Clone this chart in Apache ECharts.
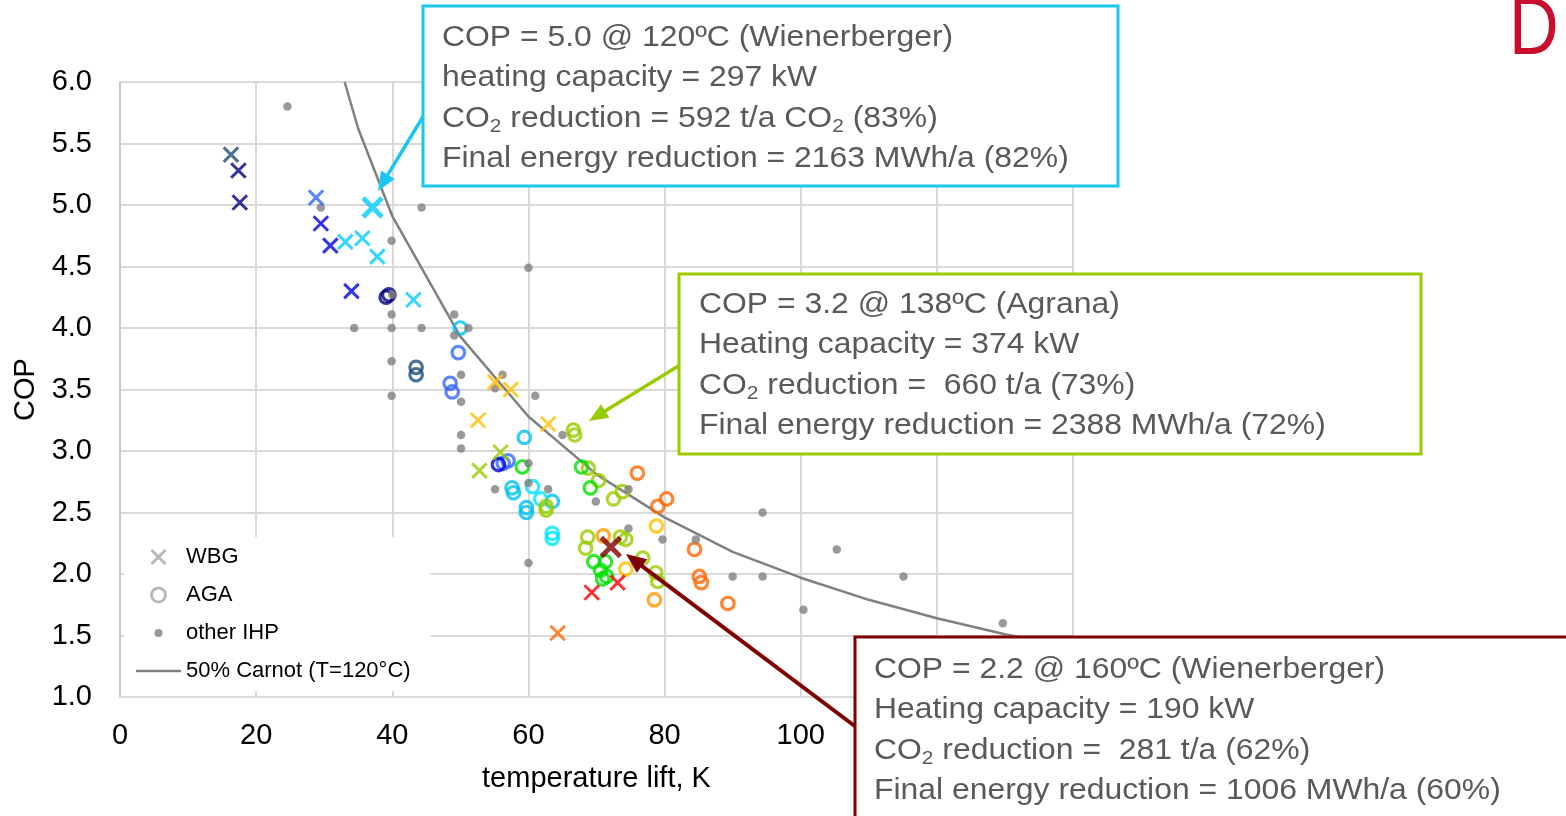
<!DOCTYPE html>
<html><head><meta charset="utf-8">
<script src="https://cdn.jsdelivr.net/npm/echarts/dist/echarts.min.js"></script>
<style>html,body{margin:0;padding:0;background:#fff}#c{width:1566px;height:816px}</style>
</head><body><div id="c"></div><script>
// ---------- data (temperature lift K, COP) ----------
const wbgTeal = [[16.3,5.41]];
const wbgNavy = [[17.4,5.28],[17.6,5.02]];
const wbgRoyal = [[28.8,5.06]];
const wbgBlue = [[29.5,4.85],[30.9,4.67],[34.0,4.30]];
const wbgCyan = [[33.1,4.70],[35.6,4.73],[37.8,4.58],[43.1,4.23]];
const wbgCyanHighlight = [[37.1,4.98]];
const wbgGold = [[55.1,3.56],[57.4,3.50],[52.6,3.25],[62.9,3.22]];
const wbgYellowGreen = [[55.9,2.99],[52.8,2.84]];
const wbgRed = [[73.1,1.93],[69.3,1.85]];
const wbgOrange = [[64.3,1.52]];
const wbgDarkRedHighlight = [[72.1,2.22]];

const agaNavy = [[39.1,4.25],[39.5,4.27]];
const agaTeal = [[43.5,3.68],[43.5,3.62]];
const agaRoyal = [[49.7,3.80],[48.5,3.55],[48.8,3.48],[56.3,2.90],[57.0,2.92]];
const agaBlue = [[55.6,2.89]];
const agaSky = [[50.0,4.00],[59.4,3.11],[57.6,2.70],[57.8,2.66],[59.7,2.54],[59.7,2.50],[63.5,2.59]];
const agaCyan = [[60.6,2.71],[61.8,2.61],[63.5,2.33],[63.5,2.29]];
const agaYellowGreen = [[66.6,3.17],[66.8,3.13],[62.6,2.55],[62.6,2.52],[68.8,2.86],[70.3,2.76],[72.5,2.61],[73.8,2.67],[68.7,2.30],[68.4,2.21],[73.5,2.30],[74.3,2.28],[76.8,2.13],[78.7,2.01],[79.0,1.94]];
const agaGreen = [[59.1,2.87],[67.8,2.87],[69.1,2.70],[69.6,2.10],[71.3,2.10],[70.6,2.03],[71.5,1.98],[70.9,1.96]];
const agaOrange = [[76.0,2.82],[79.0,2.55],[80.3,2.61],[84.4,2.20],[85.1,1.98],[85.4,1.93],[89.3,1.76]];
const agaLightOrange = [[71.0,2.31],[78.5,1.79]];
const agaGold = [[78.8,2.39],[74.3,2.04]];

const otherIHP = [[24.6,5.80],[29.5,4.98],[44.3,4.98],[39.9,4.71],[40.0,4.27],[39.9,4.11],[49.1,4.11],
  [34.4,4.00],[39.9,4.00],[44.3,4.00],[51.2,4.00],[49.1,3.94],[39.9,3.73],[50.1,3.62],[39.9,3.45],
  [50.1,3.40],[56.2,3.62],[55.1,3.51],[61.0,3.45],[50.1,3.13],[50.1,3.02],[65.0,3.13],[60.0,2.90],
  [55.1,2.69],[60.0,2.74],[62.9,2.69],[60.0,2.09],[69.9,2.59],[74.7,2.69],[74.7,2.37],[79.7,2.28],
  [84.6,2.28],[94.4,2.50],[90.0,1.98],[94.4,1.98],[100.4,1.71],[105.3,2.20],[115.1,1.98],[129.7,1.60],
  [60.0,4.49]];

const carnotLift = [33,35,40,50,60,70,80,90,100,110,120,130,140];
const carnotCop  = [6.0,5.62,4.91,3.93,3.28,2.81,2.46,2.18,1.97,1.79,1.64,1.51,1.40];

const legendNames = ['WBG','AGA','other IHP','50% Carnot (T=120°C)'];
const xAxisName = 'temperature lift, K';
const yAxisName = 'COP';

const calloutCyan = ['COP = 5.0 @ 120ºC (Wienerberger)','heating capacity = 297 kW','CO_2 reduction = 592 t/a CO_2 (83%)','Final energy reduction = 2163 MWh/a (82%)'];
const calloutGreen = ['COP = 3.2 @ 138ºC (Agrana)','Heating capacity = 374 kW','CO_2 reduction =  660 t/a (73%)','Final energy reduction = 2388 MWh/a (72%)'];
const calloutRed = ['COP = 2.2 @ 160ºC (Wienerberger)','Heating capacity = 190 kW','CO_2 reduction =  281 t/a (62%)','Final energy reduction = 1006 MWh/a (60%)'];

// ---------- styling ----------
const FONT = "'Liberation Sans', Arial, sans-serif";
const X_PATH = 'path://M0,0L10,10M10,0L0,10';
const DOT_PATH = 'path://M7,3A4,4 0 1,0 7.001,3Z M0,0h0.01v0.01h-0.01Z M14,14h-0.01v-0.01h0.01Z';
const LINE_PATH = 'path://M0,0h45v2.5h-45Z';
const GRIDC = '#d9d9d9';

function wbg(name, data, color, big) {
  return {type:'scatter', name, data, symbol: X_PATH, symbolSize: big ? 19 : 14.5,
    itemStyle:{color:'rgba(0,0,0,0)', borderColor: color, borderWidth: big ? 5 : 3}, z: big ? 8 : 6, silent:true};
}
function aga(name, data, color) {
  return {type:'scatter', name, data, symbol:'circle', symbolSize: 12.5,
    itemStyle:{color:'rgba(0,0,0,0)', borderColor: color, borderWidth: 3.2}, z: 5, silent:true};
}

const series = [
  {type:'line', name: legendNames[3], data: carnotLift.map((x,i)=>[x, carnotCop[i]]), symbol:'none',
   lineStyle:{color:'#808080', width:2.5}, itemStyle:{color:'#808080'}, z:3, silent:true, clip:true},
  {type:'scatter', name: legendNames[0], data: [], symbol: X_PATH, itemStyle:{color:'rgba(0,0,0,0)', borderColor:'#a6a6a6', borderWidth:3}},
  {type:'scatter', name: legendNames[1], data: [], symbol: 'circle', itemStyle:{color:'rgba(0,0,0,0)', borderColor:'#a6a6a6', borderWidth:3}},
  aga('aga navy', agaNavy, '#000080'),
  aga('aga teal', agaTeal, '#1f4e79'),
  aga('aga royal', agaRoyal, '#3366ff'),
  aga('aga blue', agaBlue, '#0000dd'),
  aga('aga sky', agaSky, '#00c0f0'),
  aga('aga cyan', agaCyan, '#00e5ff'),
  aga('aga yellowgreen', agaYellowGreen, '#99cc00'),
  aga('aga green', agaGreen, '#00e000'),
  aga('aga orange', agaOrange, '#ff6600'),
  aga('aga light orange', agaLightOrange, '#ff9900'),
  aga('aga gold', agaGold, '#ffc000'),
  {type:'scatter', name: legendNames[2], data: otherIHP, symbol:'circle', symbolSize: 8.5,
   itemStyle:{color:'#808080'}, z:5, silent:true},
  wbg('wbg teal', wbgTeal, '#1f4e79'),
  wbg('wbg navy', wbgNavy, '#000080'),
  wbg('wbg royal', wbgRoyal, '#3366ff'),
  wbg('wbg blue', wbgBlue, '#0000ee'),
  wbg('wbg cyan', wbgCyan, '#00ccff'),
  wbg('wbg gold', wbgGold, '#ffc000'),
  wbg('wbg yellowgreen', wbgYellowGreen, '#99cc00'),
  wbg('wbg red', wbgRed, '#ff0000'),
  wbg('wbg orange', wbgOrange, '#ff6600'),
  wbg('wbg cyan highlight', wbgCyanHighlight, '#00ccff', true),
  wbg('wbg dark red highlight', wbgDarkRedHighlight, '#800000', true)
];

// ---------- callouts ----------
function richLine(s) {
  return s.split('_2').map((p,i)=> (i>0 ? '{s|2}' : '') + (p ? '{n|' + p + '}' : '')).join('');
}
const RICH = {
  n:{fontSize:29, fontFamily:FONT, fill:'#595959'},
  s:{fontSize:19, fontFamily:FONT, fill:'#595959', padding:[16,0,0,0]}
};
function callout(x, y, w, h, color, lines, tx, ty) {
  const els = [{type:'rect', shape:{x, y, width:w, height:h}, style:{fill:'#fff', stroke:color, lineWidth:3}, z:100}];
  lines.forEach((l,i)=>{
    els.push({type:'text', x: tx, y: ty + i*40.3, scaleX:1.1, z:101,
      style:{text: richLine(l), rich: RICH, fill:'#595959', font:'29px ' + FONT, verticalAlign:'middle', align:'left'}});
  });
  return els;
}
function arrow(x1,y1,x2,y2,color,width,hl,hw) {
  const dx=x2-x1, dy=y2-y1, L=Math.hypot(dx,dy), ux=dx/L, uy=dy/L;
  const bx=x2-ux*hl, by=y2-uy*hl, nx=-uy, ny=ux;
  return [
    {type:'line', shape:{x1,y1,x2:bx+ux*2,y2:by+uy*2}, style:{stroke:color, lineWidth:width}, z:99},
    {type:'polygon', shape:{points:[[x2,y2],[bx+nx*hw,by+ny*hw],[bx-nx*hw,by-ny*hw]]}, style:{fill:color}, z:99}
  ];
}

const graphics = [].concat(
  arrow(424,115,378,191,'#19c6f0',3.5,19,8),
  arrow(680,365,589,421,'#99cc00',3.5,19,8),
  arrow(856,727,626,554,'#7f0000',4,20,8.5),
  callout(423,6,695,180,'#19c6f0',calloutCyan,442,38),
  callout(679,274,742,180,'#99cc00',calloutGreen,699,305),
  callout(855,637,740,200,'#7f0000',calloutRed,874,670),
  [{type:'text', x:1509, y:32, z:101, scaleX:0.85,
    style:{text:'D', font:'81px ' + FONT, fill:'#c8102e', verticalAlign:'middle', align:'left'}}]
);

const chart = echarts.init(document.getElementById('c'), null, {renderer:'canvas'});
chart.setOption({
  animation:false,
  backgroundColor:'#fff',
  grid:{left:120, right:493, top:82, bottom:119, containLabel:false, outerBoundsMode:'none'},
  xAxis:{type:'value', min:0, max:140, interval:20,
    name:xAxisName, nameLocation:'middle', nameGap:67,
    nameTextStyle:{fontSize:29, color:'#000', fontFamily:FONT},
    axisLine:{show:true, onZero:false, lineStyle:{color:GRIDC, width:2}},
    axisTick:{show:false},
    axisLabel:{fontSize:29, color:'#000', fontFamily:FONT, margin:24},
    splitLine:{show:true, lineStyle:{color:GRIDC, width:2}}},
  yAxis:{type:'value', min:1, max:6, interval:0.5,
    name:yAxisName, nameLocation:'middle', nameGap:78,
    nameTextStyle:{fontSize:29, color:'#000', fontFamily:FONT},
    axisLine:{show:true, onZero:false, lineStyle:{color:'#c8c8c8', width:2}},
    axisTick:{show:false},
    axisLabel:{fontSize:29, color:'#000', fontFamily:FONT, margin:28, formatter:v=>v.toFixed(1)},
    splitLine:{show:true, lineStyle:{color:GRIDC, width:2}}},
  legend:{orient:'vertical', left:124, top:537, padding:[8,20,8,12], backgroundColor:'#fff',
    itemWidth:45, itemHeight:14, itemGap:14, selectedMode:false,
    textStyle:{fontSize:22, color:'#000', fontFamily:FONT, lineHeight:24},
    data:[
      {name:legendNames[0], icon:X_PATH, itemStyle:{color:'rgba(0,0,0,0)', borderColor:'#a6a6a6', borderWidth:3}},
      {name:legendNames[1], icon:'circle', itemStyle:{color:'rgba(0,0,0,0)', borderColor:'#a6a6a6', borderWidth:3}},
      {name:legendNames[2], icon:DOT_PATH, itemStyle:{color:'#808080', borderWidth:0}},
      {name:legendNames[3], icon:LINE_PATH, itemStyle:{color:'#808080', borderWidth:0}}
    ]},
  series: series,
  graphic: graphics
});
</script></body></html>
